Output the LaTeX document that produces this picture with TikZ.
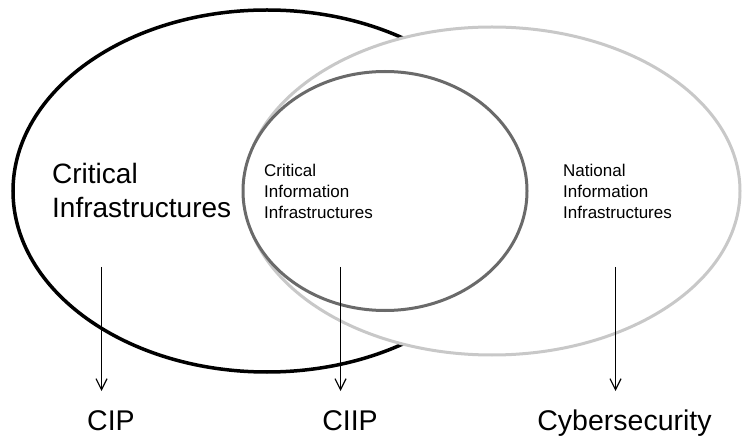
\documentclass[tikz,border=0pt]{standalone}
\usepackage{fontspec}
\setmainfont{Liberation Sans}
\usepackage{tikz}
\usetikzlibrary{arrows.meta, calc}

\definecolor{ringgray}{HTML}{C8C8C8}
\definecolor{ringdark}{HTML}{6A6A6A}

\begin{document}
\begin{tikzpicture}[x=1pt, y=1pt,
    bigtext/.style={anchor=west, inner sep=0pt, align=left, font=\fontsize{28}{34}\selectfont},
    smalltext/.style={anchor=west, inner sep=0pt, align=left, font=\fontsize{17}{21}\selectfont},
    goal/.style={anchor=base, inner sep=0pt, font=\fontsize{28.5}{32}\selectfont},
    down/.style={line width=1.2pt, -{Straight Barb[length=11pt, width=11pt, line width=1.2pt]}}]

\useasboundingbox (0, 0) rectangle (742, 437);

%% rings
\coordinate (ci) at (267, 246);
\coordinate (nii) at (492, 246);
\coordinate (cii) at (385, 246);
\draw [line width=3.5pt, black] (ci) ellipse [x radius=254, y radius=181];
\draw [line width=3pt, ringgray, fill=white] (nii) ellipse [x radius=248, y radius=164];
\draw [line width=3pt, ringdark, fill=white] (cii) ellipse [x radius=142, y radius=119.5];

%% ring texts
\node[bigtext] (citext) at (52, 247) {Critical\\Infrastructures};
\node[smalltext] (ciitext) at (264, 246) {Critical\\Information\\Infrastructures};
\node[smalltext] (niitext) at (563, 246) {National\\Information\\Infrastructures};

%% goals
\node[goal] (cip) at (111, 7) {CIP};
\node[goal] (ciip) at (350, 7) {CIIP};
\node[goal] (cyber) at (624.5, 7) {Cybersecurity};

\coordinate (cipA) at (101.5, 170);
\coordinate (cipB) at (101.5, 46);
\coordinate (ciipA) at (340.5, 170);
\coordinate (ciipB) at (340.5, 46);
\coordinate (cyberA) at (615.5, 170);
\coordinate (cyberB) at (615.5, 46);

\draw[down] (cipA) -- (cipB);
\draw[down] (ciipA) -- (ciipB);
\draw[down] (cyberA) -- (cyberB);

\end{tikzpicture}
\end{document}
